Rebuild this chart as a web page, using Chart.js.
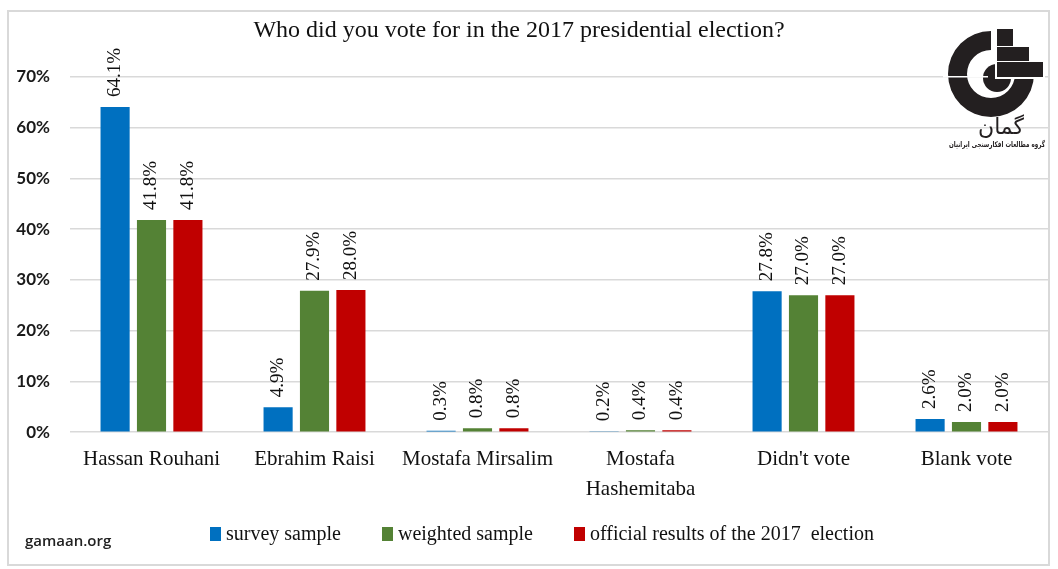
<!DOCTYPE html>
<html>
<head>
<meta charset="utf-8">
<script src="https://cdn.jsdelivr.net/npm/chart.js@4.4.1/dist/chart.umd.min.js"></script>
<style>
  html, body { margin: 0; padding: 0; background: #fff; }
  #wrap { position: relative; width: 1058px; height: 569px; overflow: hidden; }
  #frame { position: absolute; left: 7px; top: 10px; width: 1043px; height: 556px;
           box-sizing: border-box; border: 2px solid #d9d9d9; }
  #title { position: absolute; left: 0; width: 1038px; top: 16px; text-align: center;
           font: 24px "Liberation Serif", serif; color: #111; }
  #chart { position: absolute; left: 0; top: 0; }
  #logo { position: absolute; left: 925px; top: 20px; }
  #site { position: absolute; left: 25px; top: 530px; font: 600 15px "Open Sans", sans-serif; color: #222; }
  #legend { position: absolute; top: 522px; left: 210px; display: flex; font: 20px "Liberation Serif", serif; color: #111; }
  #legend .item { display: flex; align-items: center; margin-right: 41px; }
  #legend .box { width: 11px; height: 14px; margin-right: 5px; }
</style>
</head>
<body>
<div id="wrap">
  <div id="frame"></div>
  <canvas id="chart" width="1058" height="569"></canvas>
  <div id="title">Who did you vote for in the 2017 presidential election?</div>
  <canvas id="logo" width="130" height="130"></canvas>
  <div id="legend"></div>
  <div id="site">gamaan.org</div>
</div>
<script>
const categories = ['Hassan Rouhani', 'Ebrahim Raisi', 'Mostafa Mirsalim', ['Mostafa', 'Hashemitaba'], "Didn't vote", 'Blank vote'];
const surveySample = [64.1, 4.9, 0.3, 0.2, 27.8, 2.6];
const weightedSample = [41.8, 27.9, 0.8, 0.4, 27.0, 2.0];
const officialResults = [41.8, 28.0, 0.8, 0.4, 27.0, 2.0];
const seriesNames = ['survey sample', 'weighted sample', 'official results of the 2017\u00a0\u00a0election'];
const seriesColors = ['#0070C0', '#548235', '#C00000'];
const yTicks = [0, 10, 20, 30, 40, 50, 60, 70];

// rotated value labels above each bar
const barValues = {
  id: 'barValues',
  afterDatasetsDraw(chart) {
    const ctx = chart.ctx;
    ctx.save();
    ctx.font = '19px "Liberation Serif", serif';
    ctx.fillStyle = '#111';
    ctx.textAlign = 'left';
    ctx.textBaseline = 'middle';
    chart.data.datasets.forEach((ds, i) => {
      chart.getDatasetMeta(i).data.forEach((bar, j) => {
        ctx.save();
        ctx.translate(bar.x, bar.y - 10);
        ctx.rotate(-Math.PI / 2);
        ctx.fillText(ds.data[j].toFixed(1) + '%', 0, 0);
        ctx.restore();
      });
    });
    ctx.restore();
  }
};

const datasets = [surveySample, weightedSample, officialResults].map((d, i) => ({
  label: seriesNames[i],
  data: d,
  backgroundColor: seriesColors[i],
  categoryPercentage: 0.67,
  barPercentage: 0.8
}));

new Chart(document.getElementById('chart'), {
  type: 'bar',
  data: { labels: categories, datasets: datasets },
  options: {
    responsive: false,
    animation: false,
    layout: { padding: { top: 77, left: 0, right: 10, bottom: 60 } },
    plugins: { legend: { display: false }, tooltip: { enabled: false } },
    scales: {
      x: {
        grid: { display: false },
        border: { display: false },
        ticks: {
          color: '#111',
          padding: 5,
          maxRotation: 0,
          autoSkip: false,
          font: { family: '"Liberation Serif", serif', size: 21, lineHeight: 1.4 }
        }
      },
      y: {
        min: yTicks[0],
        max: yTicks[yTicks.length - 1],
        afterFit(scale) { scale.width = 70; },
        afterBuildTicks(scale) { scale.ticks = yTicks.map(v => ({ value: v })); },
        grid: { color: '#d9d9d9', lineWidth: 1.5, drawTicks: false },
        border: { display: false },
        ticks: {
          padding: 20,
          color: '#1a1a1a',
          font: { family: 'Lato, sans-serif', size: 17, weight: 'bold' },
          callback: v => v + '%'
        }
      }
    }
  },
  plugins: [barValues]
});

// legend
const legend = document.getElementById('legend');
seriesNames.forEach((name, i) => {
  const item = document.createElement('div');
  item.className = 'item';
  item.innerHTML = '<span class="box" style="background:' + seriesColors[i] + '"></span>' + name;
  legend.appendChild(item);
});

// gamaan logo
const lg = document.getElementById('logo').getContext('2d');
const cx = 66, cy = 54;
const rects = [[72, 9, 16, 17], [72, 27, 32, 14], [72, 42, 46, 15]];
lg.fillStyle = '#231f20';
lg.beginPath();
lg.arc(cx, cy, 43, 0, Math.PI * 1.5);
lg.arc(cx, cy, 24, Math.PI * 1.5, 0, true);
lg.closePath();
lg.fill();
lg.beginPath();
lg.arc(cx + 6, cy + 4, 14, 0, Math.PI * 2);
lg.fill();
lg.strokeStyle = '#fff';
lg.lineWidth = 2;
rects.forEach(r => lg.strokeRect(r[0] - 1, r[1] - 1, r[2] + 2, r[3] + 2));
lg.fillStyle = '#231f20';
rects.forEach(r => lg.fillRect(r[0], r[1], r[2], r[3]));
lg.fillStyle = '#fff';
lg.fillRect(18, cy + 2, 45, 1.5);
lg.fillStyle = '#231f20';
lg.textAlign = 'center';
lg.direction = 'rtl';
lg.font = '22px "DejaVu Sans", sans-serif';
lg.fillText('گمان', 76, 114);
const subtitle = 'گروه مطالعات افکارسنجی ایرانیان';
lg.font = 'bold 8px "DejaVu Sans", sans-serif';
const sw = lg.measureText(subtitle).width;
lg.save();
lg.translate(72, 127);
lg.scale(Math.min(1, 96 / sw), 1);
lg.fillText(subtitle, 0, 0);
lg.restore();
</script>
</body>
</html>
